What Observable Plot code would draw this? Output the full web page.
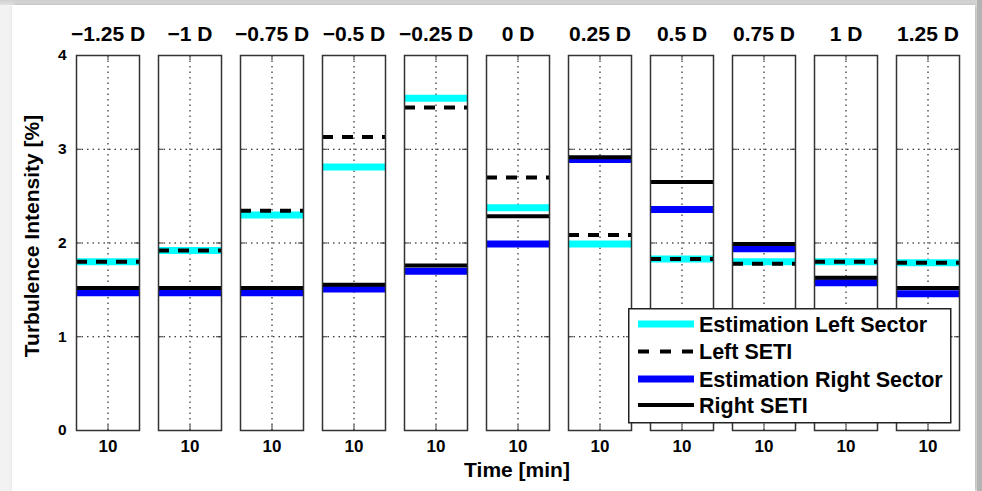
<!DOCTYPE html>
<html>
<head>
<meta charset="utf-8">
<script src="https://cdn.jsdelivr.net/npm/d3@7"></script>
<script src="https://cdn.jsdelivr.net/npm/@observablehq/plot@0.6"></script>
<style>
  html, body { margin: 0; padding: 0; }
  body { width: 982px; height: 491px; overflow: hidden; background: #f2f2f2; font-family: "Liberation Sans", Arial, Helvetica, sans-serif; }
  #wrap { position: relative; width: 982px; height: 491px; }
  #sheet { position: absolute; left: 12px; top: 5px; width: 963px; height: 486px; background: #fff; box-shadow: 2px 0 4px rgba(0,0,0,0.25); }
  #rightbar { position: absolute; left: 977px; top: 0; width: 5px; height: 491px; background: #b3b3b3; }
  #topbar { position: absolute; left: 0; top: 0; width: 982px; height: 5px; background: linear-gradient(#cfcfcf, #e2e2e2); }
  #chart { position: absolute; left: 0; top: 0; }
  .lbl { position: absolute; font-weight: bold; font-size: 21px; color: #000; white-space: nowrap; }
  #ylabel { left: 32px; top: 236px; transform: translate(-50%, -50%) rotate(-90deg); }
  #xlabel { left: 517px; top: 470px; transform: translate(-50%, -50%); }
  #legend { position: absolute; left: 628px; top: 308px; }
</style>
</head>
<body>
<div id="wrap">
  <div id="topbar"></div>
  <div id="sheet"></div>
  <div id="rightbar"></div>
  <div id="chart"></div>
  <div class="lbl" id="ylabel">Turbulence Intensity [%]</div>
  <div class="lbl" id="xlabel">Time [min]</div>
  <div id="legend"></div>
</div>
<script>
// ---- data ----
const categories = ["−1.25 D", "−1 D", "−0.75 D", "−0.5 D", "−0.25 D", "0 D", "0.25 D", "0.5 D", "0.75 D", "1 D", "1.25 D"];
const estimationLeft  = [1.80, 1.92, 2.30, 2.81, 3.545, 2.375, 1.99, 1.83, 1.80, 1.80, 1.79];
const leftSETI        = [1.80, 1.92, 2.345, 3.13, 3.445, 2.70, 2.085, 1.83, 1.78, 1.80, 1.79];
const estimationRight = [1.47, 1.47, 1.47, 1.51, 1.70, 1.99, 2.89, 2.357, 1.94, 1.575, 1.46];
const rightSETI       = [1.52, 1.52, 1.52, 1.555, 1.76, 2.286, 2.916, 2.65, 1.99, 1.63, 1.52];
const yTicks = [0, 1, 2, 3, 4];
const xTicks = [10];
const seriesNames = ["Estimation Left Sector", "Left SETI", "Estimation Right Sector", "Right SETI"];

const rows = categories.map((c, i) => ({
  cat: c,
  estLeft: estimationLeft[i],
  leftSeti: leftSETI[i],
  estRight: estimationRight[i],
  rightSeti: rightSETI[i]
}));

const font = "'Liberation Sans', Arial, Helvetica, sans-serif";
const innerY = yTicks.slice(1, -1);

const chart = Plot.plot({
  width: 982,
  height: 491,
  marginLeft: 74,
  marginRight: 22,
  marginTop: 55,
  marginBottom: 61,
  style: { fontFamily: font, fontWeight: "bold", fontSize: "16px", color: "#000", background: "transparent", overflow: "visible" },
  fx: { domain: categories, paddingInner: 0.232, paddingOuter: 0, label: null },
  x: { domain: [0, 20] },
  y: { domain: [0, 4] },
  marks: [
    Plot.gridY(innerY, { stroke: "#000", strokeOpacity: 1, strokeWidth: 1, strokeDasharray: "1.5,4" }),
    Plot.gridX(xTicks, { stroke: "#000", strokeOpacity: 1, strokeWidth: 1, strokeDasharray: "1.5,4" }),
    // inward tick marks (MATLAB style)
    Plot.tickY(innerY, { stroke: "#333", strokeWidth: 1, insetRight: 58 }),
    Plot.tickY(innerY, { stroke: "#333", strokeWidth: 1, insetLeft: 58 }),
    Plot.tickX(xTicks, { stroke: "#333", strokeWidth: 1, insetTop: 370 }),
    Plot.tickX(xTicks, { stroke: "#333", strokeWidth: 1, insetBottom: 370 }),
    Plot.ruleY(rows, { fx: "cat", y: "estLeft", stroke: "#00ffff", strokeWidth: 7 }),
    Plot.ruleY(rows, { fx: "cat", y: "leftSeti", stroke: "#000", strokeWidth: 4, strokeDasharray: "11,9" }),
    Plot.ruleY(rows, { fx: "cat", y: "estRight", stroke: "#0000ff", strokeWidth: 7 }),
    Plot.ruleY(rows, { fx: "cat", y: "rightSeti", stroke: "#000", strokeWidth: 4 }),
    Plot.frame({ stroke: "#333", strokeWidth: 1.5 }),
    Plot.axisY(yTicks, { tickSize: 0, tickPadding: 10, label: null, tickFormat: d3.format("d") }),
    Plot.axisX(xTicks, { tickSize: 0, tickPadding: 9, label: null, tickFormat: d3.format("d") }),
    Plot.axisFx({ anchor: "top", tickSize: 0, tickPadding: 15, label: null })
  ]
});

// enforce tick-label font sizes directly on the text elements
const yTickStrings = yTicks.map(String);
chart.querySelectorAll("text").forEach(t => {
  const s = t.textContent.trim();
  t.style.fontWeight = "bold";
  if (categories.includes(s)) t.style.fontSize = "21px";
  else if (s === "10") t.style.fontSize = "17px";
  else if (yTickStrings.includes(s)) t.style.fontSize = "15.5px";
});
document.getElementById("chart").appendChild(chart);

// ---- legend (inside the plot area, as in the reference) ----
const legendW = 322, legendH = 114;
const styles = [
  { stroke: "#00ffff", width: 7, dash: null },
  { stroke: "#000", width: 4, dash: "11,11" },
  { stroke: "#0000ff", width: 7, dash: null },
  { stroke: "#000", width: 4, dash: null }
];
const rowY = [16, 43.5, 71, 97];
const lg = d3.create("svg").attr("width", legendW + 2).attr("height", legendH + 2)
  .style("font-family", font).style("overflow", "visible");
lg.append("rect").attr("x", 0.75).attr("y", 0.75).attr("width", legendW).attr("height", legendH)
  .attr("fill", "#fff").attr("stroke", "#222").attr("stroke-width", 1.5);
seriesNames.forEach((name, i) => {
  const s = styles[i];
  const l = lg.append("line").attr("x1", 10).attr("x2", 66).attr("y1", rowY[i]).attr("y2", rowY[i])
    .attr("stroke", s.stroke).attr("stroke-width", s.width);
  if (s.dash) l.attr("stroke-dasharray", s.dash);
  lg.append("text").attr("x", 71).attr("y", rowY[i]).attr("dy", "0.36em")
    .attr("font-size", 21.5).attr("font-weight", "bold").attr("fill", "#000").text(name);
});
document.getElementById("legend").appendChild(lg.node());
</script>
</body>
</html>
